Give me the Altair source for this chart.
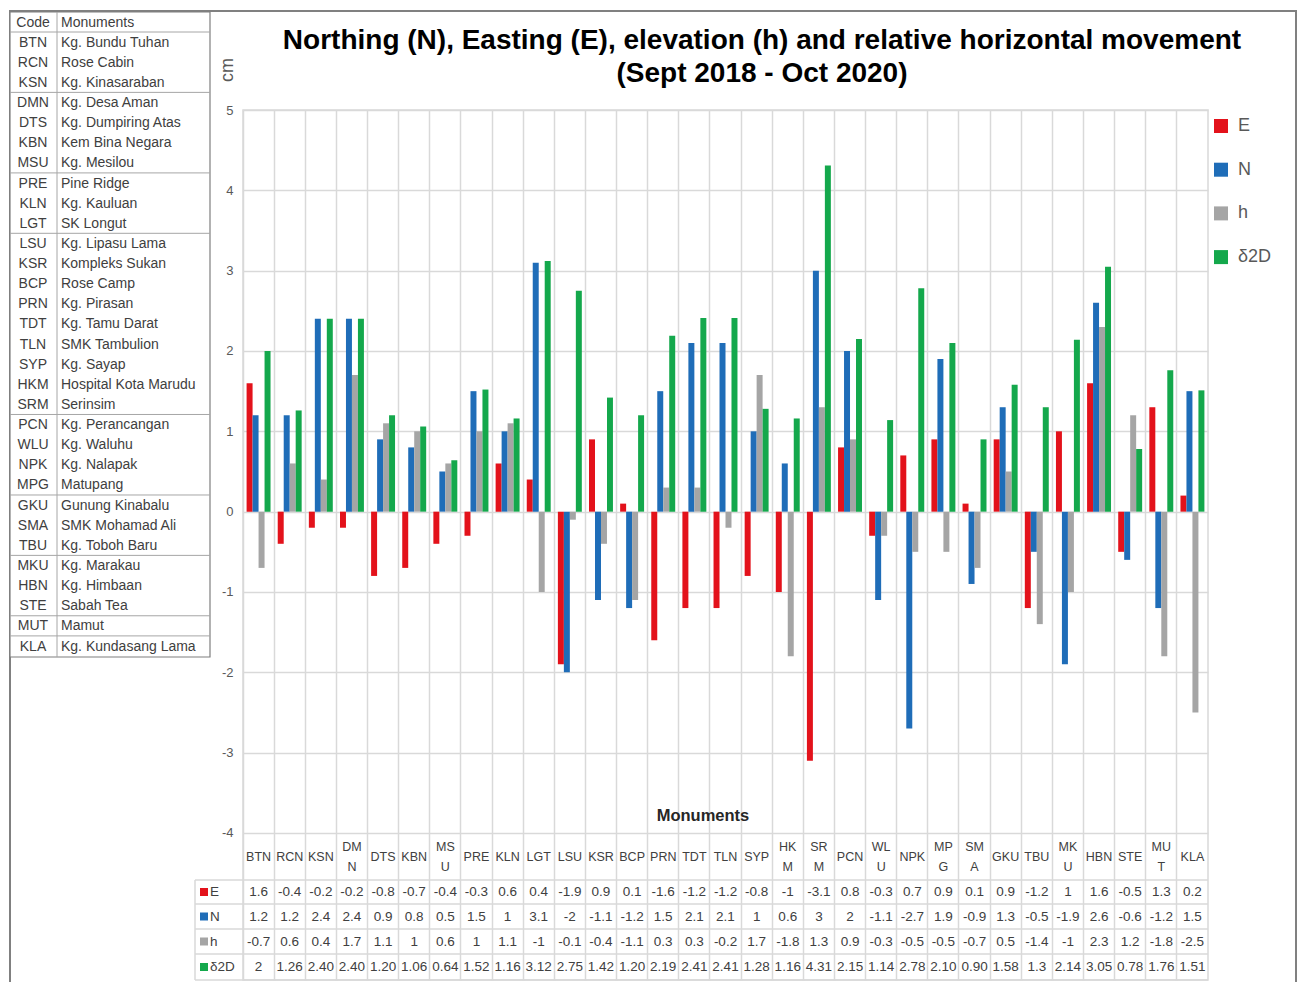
import altair as alt
import pandas as pd

# ---------------- data ----------------
CODES = ["BTN", "RCN", "KSN", "DMN", "DTS", "KBN", "MSU", "PRE", "KLN", "LGT",
         "LSU", "KSR", "BCP", "PRN", "TDT", "TLN", "SYP", "HKM", "SRM", "PCN",
         "WLU", "NPK", "MPG", "SMA", "GKU", "TBU", "MKU", "HBN", "STE", "MUT", "KLA"]
# the monument list on the left is in its own order (GKU before SMA)
LIST_CODES = ["BTN", "RCN", "KSN", "DMN", "DTS", "KBN", "MSU", "PRE", "KLN", "LGT",
              "LSU", "KSR", "BCP", "PRN", "TDT", "TLN", "SYP", "HKM", "SRM", "PCN",
              "WLU", "NPK", "MPG", "GKU", "SMA", "TBU", "MKU", "HBN", "STE", "MUT", "KLA"]
LIST_NAMES = ["Kg. Bundu Tuhan", "Rose Cabin", "Kg. Kinasaraban", "Kg. Desa Aman",
              "Kg. Dumpiring Atas", "Kem Bina Negara", "Kg. Mesilou", "Pine Ridge",
              "Kg. Kauluan", "SK Longut", "Kg. Lipasu Lama", "Kompleks Sukan",
              "Rose Camp", "Kg. Pirasan", "Kg. Tamu Darat", "SMK Tambulion",
              "Kg. Sayap", "Hospital Kota Marudu", "Serinsim", "Kg. Perancangan",
              "Kg. Waluhu", "Kg. Nalapak", "Matupang", "Gunung Kinabalu",
              "SMK Mohamad Ali", "Kg. Toboh Baru", "Kg. Marakau", "Kg. Himbaan",
              "Sabah Tea", "Mamut", "Kg. Kundasang Lama"]
E_VALS = [1.6, -0.4, -0.2, -0.2, -0.8, -0.7, -0.4, -0.3, 0.6, 0.4, -1.9, 0.9, 0.1,
          -1.6, -1.2, -1.2, -0.8, -1, -3.1, 0.8, -0.3, 0.7, 0.9, 0.1, 0.9, -1.2, 1,
          1.6, -0.5, 1.3, 0.2]
N_VALS = [1.2, 1.2, 2.4, 2.4, 0.9, 0.8, 0.5, 1.5, 1, 3.1, -2, -1.1, -1.2, 1.5, 2.1,
          2.1, 1, 0.6, 3, 2, -1.1, -2.7, 1.9, -0.9, 1.3, -0.5, -1.9, 2.6, -0.6, -1.2, 1.5]
H_VALS = [-0.7, 0.6, 0.4, 1.7, 1.1, 1, 0.6, 1, 1.1, -1, -0.1, -0.4, -1.1, 0.3, 0.3,
          -0.2, 1.7, -1.8, 1.3, 0.9, -0.3, -0.5, -0.5, -0.7, 0.5, -1.4, -1, 2.3, 1.2,
          -1.8, -2.5]
D2D_VALS = [2, 1.26, 2.40, 2.40, 1.20, 1.06, 0.64, 1.52, 1.16, 3.12, 2.75, 1.42, 1.20,
            2.19, 2.41, 2.41, 1.28, 1.16, 4.31, 2.15, 1.14, 2.78, 2.10, 0.90, 1.58, 1.3,
            2.14, 3.05, 0.78, 1.76, 1.51]
D2D_TEXT = ["2", "1.26", "2.40", "2.40", "1.20", "1.06", "0.64", "1.52", "1.16", "3.12",
            "2.75", "1.42", "1.20", "2.19", "2.41", "2.41", "1.28", "1.16", "4.31", "2.15",
            "1.14", "2.78", "2.10", "0.90", "1.58", "1.3", "2.14", "3.05", "0.78", "1.76",
            "1.51"]
SERIES = ["E", "N", "h", "δ2D"]
COLORS = ["#e3121b", "#1f6db8", "#a5a5a5", "#14a84c"]
Y_TICKS = [5, 4, 3, 2, 1, 0, -1, -2, -3, -4]
WRAPPED = ["DMN", "MSU", "HKM", "SRM", "WLU", "MPG", "SMA", "MKU", "MUT"]
TITLE_LINES = ["Northing (N), Easting (E), elevation (h) and relative horizontal movement",
               "(Sept 2018 - Oct 2020)"]
GROUP_BREAKS = [0, 3, 7, 10, 19, 23, 26, 29, 30]   # list rows after which a line is drawn

# ---------------- layout ----------------
OX, OY = 243, 110          # page position of plot origin
PW, PH = 965, 870
FONT = "Liberation Sans"


def px(x):
    return x - OX


def py(y):
    return y - OY


one = pd.DataFrame({"a": [0]})


def rule(x1, y1, x2, y2, color="#d9d9d9", width=1.5):
    return alt.Chart(one).mark_rule(color=color, strokeWidth=width).encode(
        x=alt.value(px(x1)), x2=alt.value(px(x2)),
        y=alt.value(py(y1)), y2=alt.value(py(y2)))


def label(text, x, y, **kw):
    return alt.Chart(one).mark_text(text=text, font=FONT, **kw).encode(
        x=alt.value(px(x)), y=alt.value(py(y)))


# ---------------- bars ----------------
rows = []
for s, vals in zip(SERIES, [E_VALS, N_VALS, H_VALS, D2D_VALS]):
    for c, v in zip(CODES, vals):
        rows.append({"code": c, "series": s, "value": v})
df = pd.DataFrame(rows)

X = alt.X("code:N", sort=CODES,
          scale=alt.Scale(paddingInner=0, paddingOuter=0),
          axis=alt.Axis(title=None, labels=False, ticks=False, domain=False,
                        grid=True, gridColor="#d9d9d9", gridWidth=1.5, bandPosition=0))

bars = alt.Chart(df).mark_bar().encode(
    x=X,
    xOffset=alt.XOffset("series:N", sort=SERIES,
                        scale=alt.Scale(paddingInner=0, paddingOuter=0.6)),
    y=alt.Y("value:Q",
            scale=alt.Scale(domain=[-5.83, 5], nice=False, zero=False),
            axis=alt.Axis(title=None, values=Y_TICKS, grid=True, gridColor="#d9d9d9",
                          gridWidth=1.5, domain=False, ticks=False, labelPadding=10,
                          labelFontSize=13, labelColor="#595959", labelFont=FONT,
                          labelExpr="replace(datum.label, '\u2212', '-')")),
    color=alt.Color("series:N", sort=SERIES,
                    scale=alt.Scale(domain=SERIES, range=COLORS),
                    legend=alt.Legend(title=None, orient="none",
                                      legendX=px(1212), legendY=py(117),
                                      symbolType="square", symbolSize=196,
                                      symbolStrokeWidth=0, labelFontSize=18,
                                      labelColor="#595959", labelFont=FONT,
                                      rowPadding=25.7, labelOffset=8)),
)

# ---------------- data table under the chart ----------------
hdr = pd.DataFrame({"code": CODES,
                    "label": [c[:2] + "\n" + c[2:] if c in WRAPPED else c for c in CODES],
                    "wrapped": [c in WRAPPED for c in CODES]})
header_single = alt.Chart(hdr).transform_filter("!datum.wrapped").mark_text(
    fontSize=12.5, color="#404040", font=FONT, baseline="middle").encode(
    x=X, y=alt.value(py(856.5)), text="label:N")
header_wrapped = alt.Chart(hdr).transform_filter("datum.wrapped").mark_text(
    lineBreak="\n", lineHeight=20, fontSize=12.5, color="#404040", font=FONT,
    baseline="middle").encode(
    x=X, y=alt.value(py(846.5)), text="label:N")

ROW_Y = [892, 916.5, 941.5, 967]
value_layers = []
texts = [[f"{v:g}" for v in E_VALS], [f"{v:g}" for v in N_VALS],
         [f"{v:g}" for v in H_VALS], D2D_TEXT]
for s, col, ry, tx in zip(SERIES, COLORS, ROW_Y, texts):
    d = pd.DataFrame({"code": CODES, "label": tx})
    value_layers.append(
        alt.Chart(d).mark_text(fontSize=13.5, color="#404040", font=FONT,
                               baseline="middle").encode(
            x=X, y=alt.value(py(ry)), text="label:N"))
    value_layers.append(
        alt.Chart(one).mark_square(size=64, color=col, opacity=1).encode(
            x=alt.value(px(204)), y=alt.value(py(ry))))
    value_layers.append(label(s, 210, ry, fontSize=13.5, color="#404040",
                              align="left", baseline="middle"))

table_lines = [rule(195, y, 1208, y) for y in [880, 904, 929, 954, 980]]
table_lines.append(rule(195, 880, 195, 980))

# ---------------- left monument list ----------------
T_TOP, T_BOT, T_L, T_R, T_MID, LH = 12, 657, 10, 210, 57, 20.13
left_box = alt.Chart(one).mark_rect(fill="white", stroke="#7f7f7f", strokeWidth=1.2).encode(
    x=alt.value(px(T_L)), x2=alt.value(px(T_R)),
    y=alt.value(py(T_TOP)), y2=alt.value(py(T_BOT)))
left_lines = [rule(T_MID, T_TOP, T_MID, T_BOT, color="#a6a6a6", width=1)]
for i in GROUP_BREAKS:
    yy = 32 + LH * i
    left_lines.append(rule(T_L, yy, T_R, yy, color="#a6a6a6", width=1))
first_row = 22.5
codes_text = label(["Code"] + LIST_CODES, 33, first_row, fontSize=14, color="#404040",
                   align="center", baseline="middle", lineHeight=LH)
names_text = label(["Monuments"] + LIST_NAMES, 61, first_row, fontSize=14, color="#404040",
                   align="left", baseline="middle", lineHeight=LH)

# ---------------- frame and titles ----------------
frame = alt.Chart(one).mark_rect(fillOpacity=0, stroke="#808080", strokeWidth=2).encode(
    x=alt.value(px(10)), x2=alt.value(px(1296)),
    y=alt.value(py(11)), y2=alt.value(py(1010)))

title = label(TITLE_LINES, 762, 41, fontSize=28, fontWeight="bold", color="#000000",
              align="center", baseline="middle", lineHeight=33)
cm = label("cm", 228, 70, fontSize=18, color="#595959", angle=270,
           align="center", baseline="middle")
monuments = label("Monuments", 703, 816, fontSize=16.5, fontWeight="bold",
                  color="#262626", align="center", baseline="middle")

chart = alt.layer(
    frame, bars, header_single, header_wrapped, *value_layers, *table_lines,
    left_box, *left_lines, codes_text, names_text, title, cm, monuments,
).properties(
    width=PW, height=PH,
    autosize=alt.AutoSizeParams(type="none"),
    padding={"left": 235, "top": 102, "right": 89, "bottom": 2},
    background="white",
).configure_view(stroke="#d9d9d9", strokeWidth=1.5)

chart.save("out.html", embed_options={"renderer": "svg", "actions": False})
